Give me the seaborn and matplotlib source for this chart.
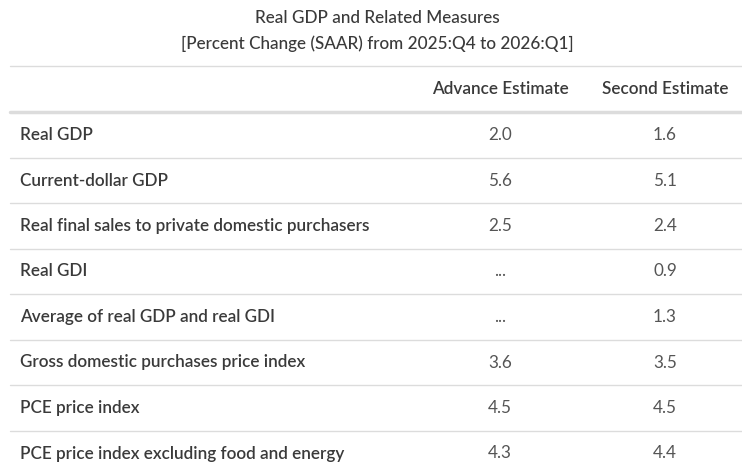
import matplotlib.pyplot as plt
import seaborn as sns

title = "Real GDP and Related Measures"
subtitle = "[Percent Change (SAAR) from 2025:Q4 to 2026:Q1]"
columns = ["Advance Estimate", "Second Estimate"]
measures = [
    "Real GDP",
    "Current-dollar GDP",
    "Real final sales to private domestic purchasers",
    "Real GDI",
    "Average of real GDP and real GDI",
    "Gross domestic purchases price index",
    "PCE price index",
    "PCE price index excluding food and energy",
]
advance = ["2.0", "5.6", "2.5", "...", "...", "3.6", "4.5", "4.3"]
second = ["1.6", "5.1", "2.4", "0.9", "1.3", "3.5", "4.5", "4.4"]

sns.set_theme(style="white")
plt.rcParams["font.family"] = ["Lato", "DejaVu Sans"]

W, H = 742, 476
fig = plt.figure(figsize=(W / 100, H / 100), dpi=100)
ax = fig.add_axes([0, 0, 1, 1])
ax.set_xlim(0, W)
ax.set_ylim(H, 0)
ax.axis("off")

text_col = "#3a3a3a"
val_col = "#555555"
line_col = "#dcdcdc"
fs = 12.3

# title block
ax.text(377, 18, title, ha="center", va="center", fontsize=fs,
        color=text_col, fontweight="medium")
ax.text(377, 44, subtitle, ha="center", va="center", fontsize=fs,
        color=text_col, fontweight="medium")

# header
ax.axhline(66, xmin=10 / W, xmax=1, color=line_col, lw=1)
col_x = [500, 665]
for x, c in zip(col_x, columns):
    ax.text(x, 89, c, ha="center", va="center", fontsize=fs,
            color=text_col, fontweight="semibold")
ax.axhline(112, xmin=10 / W, xmax=1, color=line_col, lw=2.5)

# rows
row_h = 45.5
y0 = 135
for i, (m, a, s) in enumerate(zip(measures, advance, second)):
    y = y0 + i * row_h
    ax.text(20, y, m, ha="left", va="center", fontsize=fs,
            color=text_col, fontweight="semibold")
    ax.text(col_x[0], y, a, ha="center", va="center", fontsize=fs,
            color=val_col, fontweight="normal")
    ax.text(col_x[1], y, s, ha="center", va="center", fontsize=fs,
            color=val_col, fontweight="normal")
    if i < len(measures) - 1:
        ax.axhline(y + row_h / 2, xmin=10 / W, xmax=1, color=line_col, lw=1)

fig.savefig("out.png", dpi=100, facecolor="white")
